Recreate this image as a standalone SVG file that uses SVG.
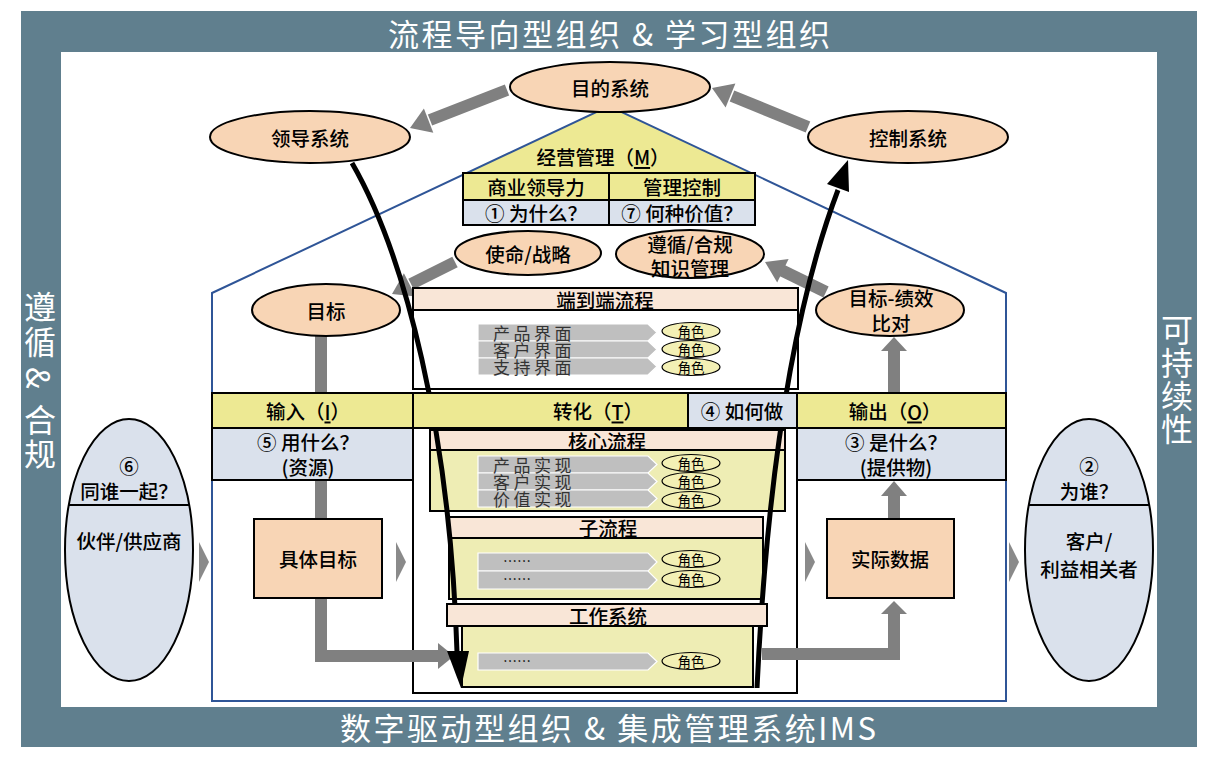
<svg xmlns="http://www.w3.org/2000/svg" width="1209" height="766" viewBox="0 0 1209 766">
<defs>
<style>
text{font-family:"Noto Sans CJK SC","Noto Sans",sans-serif;text-anchor:middle;dominant-baseline:central;fill:#000;font-size:19.5px;font-weight:500}
.w{fill:#fff;font-size:31px;font-weight:400}
.sv{fill:#fff;font-size:32px;font-weight:400}
.bd{stroke:#000;stroke-width:2}
.y{fill:#EDE993}
.py{fill:#EEEDB4}
.lb{fill:#DAE1EC}
.pk{fill:#F9E6D7}
.pe{fill:#F8D5B5}
.el{fill:#F8D5B5;stroke:#000;stroke-width:2}
.se{fill:#DAE1EC;stroke:#000;stroke-width:2}
.g{stroke:#808080;stroke-width:12;fill:none}
.gh{fill:#808080}
.tri{fill:#8A8A8A}
.chev{fill:#BFBFBF;stroke:#fff;stroke-width:1.2}
.role{fill:#F3F0B5;stroke:#000;stroke-width:1.2}
.rt{font-size:13.5px;font-weight:400}
.pt{font-size:17px;fill:#333;text-anchor:start;letter-spacing:3.5px;font-weight:400}
.dots{font-size:14px;text-anchor:start;font-weight:400}
.blk{stroke:#000;stroke-width:5;fill:none}
</style>
</defs>

<g id="frame">
<rect x="21" y="11" width="1176" height="736" fill="#607F8E"/>
<rect x="61" y="52" width="1096" height="655" fill="#fff"/>
<text class="w" x="609" y="32" textLength="442" lengthAdjust="spacing">流程导向型组织 &amp; 学习型组织</text>
<text class="w" x="608" y="726" textLength="536" lengthAdjust="spacing">数字驱动型组织 &amp; 集成管理系统IMS</text>
<text class="sv" x="40" y="305">遵</text>
<text class="sv" x="40" y="340">循</text>
<text class="sv" x="40" y="378" transform="rotate(90 40 378)">&amp;</text>
<text class="sv" x="40" y="418">合</text>
<text class="sv" x="40" y="452">规</text>
<text class="sv" x="1177" y="328">可</text>
<text class="sv" x="1177" y="361">持</text>
<text class="sv" x="1177" y="394">续</text>
<text class="sv" x="1177" y="427">性</text>
</g>

<g id="house">
<polygon class="y" points="609,106 467,173 751,173"/>
<polygon points="212,701 212,293 609,106 1006,293 1006,701" fill="none" stroke="#2F5597" stroke-width="2"/>
<text x="603" y="156">经营管理（<tspan text-decoration="underline">M</tspan>）</text>
</g>

<g id="table">
<rect x="463" y="173" width="292" height="27" class="y bd"/>
<rect x="463" y="200" width="292" height="25" class="lb bd"/>
<line x1="609" y1="173" x2="609" y2="225" class="bd"/>
<text x="536" y="186">商业领导力</text>
<text x="682" y="186">管理控制</text>
<text x="536" y="212">① 为什么？</text>
<text x="682" y="212">⑦ 何种价值？</text>
</g>

<g id="central-box">
<rect x="413" y="428" width="384" height="265" fill="#fff" class="bd"/>
</g>

<g id="connectors">
<path class="g" d="M321,336 V656 H440"/>
<polygon class="gh" points="438,643 454,656 438,669"/>
<path class="g" d="M762,654 H894 V613"/>
<polygon class="gh" points="881,614 894,601 907,614"/>
<path class="g" d="M894,519 V495"/>
<polygon class="gh" points="881,496 894,481 907,496"/>
<path class="g" d="M894,393 V350"/>
<polygon class="gh" points="881,351 894,337 907,351"/>
<path class="g" d="M507,90 L430,120"/>
<polygon class="gh" points="433.3,132.8 410,128 423.9,108.6"/>
<path class="g" d="M808,127 L732,96"/>
<polygon class="gh" points="735.4,83.4 712,88 725.6,107.6"/>
<path class="g" d="M455,262 L411,284"/>
<polygon class="gh" points="415.7,296.5 392,294 403.9,273.3"/>
<path class="g" d="M826,292 L781,270"/>
<polygon class="gh" points="788.6,259.1 765,262 777.2,282.5"/>
</g>

<g id="purpose-system"><ellipse class="el" cx="610" cy="87" rx="100" ry="25"/><text x="610" y="87">目的系统</text></g>
<g id="leadership-system"><ellipse class="el" cx="310" cy="137" rx="100" ry="26"/><text x="310" y="137">领导系统</text></g>
<g id="control-system"><ellipse class="el" cx="908" cy="137" rx="100" ry="26"/><text x="908" y="137">控制系统</text></g>
<g id="mission"><ellipse class="el" cx="528" cy="253" rx="73" ry="22"/><text x="528" y="253">使命/战略</text></g>
<g id="compliance"><ellipse class="el" cx="690" cy="254" rx="74" ry="24"/><text x="690" y="243">遵循/合规</text><text x="690" y="267">知识管理</text></g>
<g id="goal"><ellipse class="el" cx="326" cy="310" rx="74" ry="26"/><text x="326" y="310">目标</text></g>
<g id="goal-perf"><ellipse class="el" cx="890" cy="310" rx="74" ry="26"/><text x="891" y="297">目标-绩效</text><text x="891" y="322">比对</text></g>

<g id="e2e">
<rect x="413" y="288" width="385" height="101" fill="#fff" class="bd"/>
<rect x="413" y="288" width="385" height="22" class="pk bd"/>
<text x="605" y="299">端到端流程</text>
<path class="chev" d="M478,324H648L657,332.5L648,341H478Z"/>
<path class="chev" d="M478,341H648L657,349.5L648,358H478Z"/>
<path class="chev" d="M478,358H648L657,366.5L648,375H478Z"/>
<text class="pt" x="493" y="332.5">产品界面</text>
<text class="pt" x="493" y="349.5">客户界面</text>
<text class="pt" x="493" y="366.5">支持界面</text>
<ellipse class="role" cx="691" cy="331" rx="29" ry="8.5"/><text class="rt" x="691" y="331">角色</text>
<ellipse class="role" cx="691" cy="349" rx="29" ry="8.5"/><text class="rt" x="691" y="349">角色</text>
<ellipse class="role" cx="691" cy="367" rx="29" ry="8.5"/><text class="rt" x="691" y="367">角色</text>
</g>

<g id="core">
<rect x="430" y="450" width="355" height="61" class="py bd"/>
<rect x="430" y="430" width="355" height="20" class="pk bd"/>
<text x="607" y="440">核心流程</text>
<path class="chev" d="M478,456H648L657,464.5L648,473H478Z"/>
<path class="chev" d="M478,473H648L657,481.5L648,490H478Z"/>
<path class="chev" d="M478,490H648L657,498.5L648,507H478Z"/>
<text class="pt" x="493" y="464.5">产品实现</text>
<text class="pt" x="493" y="481.5">客户实现</text>
<text class="pt" x="493" y="498.5">价值实现</text>
<ellipse class="role" cx="691" cy="463" rx="29" ry="8.5"/><text class="rt" x="691" y="463">角色</text>
<ellipse class="role" cx="691" cy="481" rx="29" ry="8.5"/><text class="rt" x="691" y="481">角色</text>
<ellipse class="role" cx="691" cy="500" rx="29" ry="8.5"/><text class="rt" x="691" y="500">角色</text>
</g>

<g id="sub">
<rect x="449" y="538" width="314" height="61" class="py bd"/>
<rect x="449" y="517" width="314" height="21" class="pk bd"/>
<text x="608" y="527">子流程</text>
<path class="chev" d="M478,553H648L657,562L648,571H478Z"/>
<path class="chev" d="M478,571H648L657,580L648,589H478Z"/>
<text class="dots" x="503" y="560">……</text>
<text class="dots" x="503" y="578">……</text>
<ellipse class="role" cx="691" cy="559" rx="29" ry="8.5"/><text class="rt" x="691" y="559">角色</text>
<ellipse class="role" cx="691" cy="579" rx="29" ry="8.5"/><text class="rt" x="691" y="579">角色</text>
</g>

<g id="work-body">
<rect x="462" y="626" width="291" height="61" class="py bd"/>
<path class="chev" d="M478,653H648L657,661.5L648,670H478Z"/>
<text class="dots" x="503" y="660">……</text>
<ellipse class="role" cx="691" cy="661" rx="29" ry="8.5"/><text class="rt" x="691" y="661">角色</text>
</g>

<g id="big-arrows">
<path class="blk" d="M352,163 C405,255 450,430 457,652"/>
<polygon points="447,651 469,651 461,688"/>
<path class="blk" d="M757,688 C765,520 785,330 838,190"/>
<polygon points="827,184 849,192 848,160"/>
</g>

<g id="work-header">
<rect x="447" y="604" width="320" height="22" class="pk bd"/>
<text x="608" y="615">工作系统</text>
</g>

<g id="input"><rect x="212" y="393" width="201" height="35" class="y bd"/><text x="308" y="410.5">输入（<tspan text-decoration="underline">I</tspan>）</text></g>
<g id="transform"><rect x="413" y="393" width="275" height="35" class="y bd"/><text x="598" y="410.5">转化（<tspan text-decoration="underline">T</tspan>）</text></g>
<g id="how"><rect x="688" y="393" width="109" height="35" class="lb bd"/><text x="742" y="410.5">④ 如何做</text></g>
<g id="output"><rect x="797" y="393" width="209" height="35" class="y bd"/><text x="895" y="410.5">输出（<tspan text-decoration="underline">O</tspan>）</text></g>
<g id="what-with"><rect x="212" y="428" width="201" height="52" class="lb bd"/><text x="308" y="441">⑤ 用什么？</text><text x="308" y="466">(资源)</text></g>
<g id="what-is"><rect x="797" y="428" width="209" height="52" class="lb bd"/><text x="896" y="441">③ 是什么？</text><text x="896" y="466">(提供物)</text></g>

<g id="specific-goal"><rect x="254" y="519" width="128" height="79" class="pe bd"/><text x="318" y="558">具体目标</text></g>
<g id="actual-data"><rect x="827" y="519" width="127" height="79" class="pe bd"/><text x="890" y="558">实际数据</text></g>

<g id="flow-marks">
<polygon class="tri" points="199,542 209,562 199,582"/>
<polygon class="tri" points="396,542 406,562 396,582"/>
<polygon class="tri" points="805,542 815,562 805,582"/>
<polygon class="tri" points="1009,542 1019,562 1009,582"/>
</g>

<g id="partners">
<ellipse class="se" cx="129" cy="550" rx="64" ry="131"/>
<line x1="69" y1="505" x2="189" y2="505" class="bd"/>
<text x="129" y="465">⑥</text>
<text x="129" y="490">同谁一起？</text>
<text x="129" y="540">伙伴/供应商</text>
</g>

<g id="customers">
<ellipse class="se" cx="1089" cy="550" rx="64" ry="131"/>
<line x1="1029" y1="505" x2="1149" y2="505" class="bd"/>
<text x="1089" y="465">②</text>
<text x="1089" y="490">为谁？</text>
<text x="1089" y="540">客户/</text>
<text x="1089" y="568">利益相关者</text>
</g>
</svg>
